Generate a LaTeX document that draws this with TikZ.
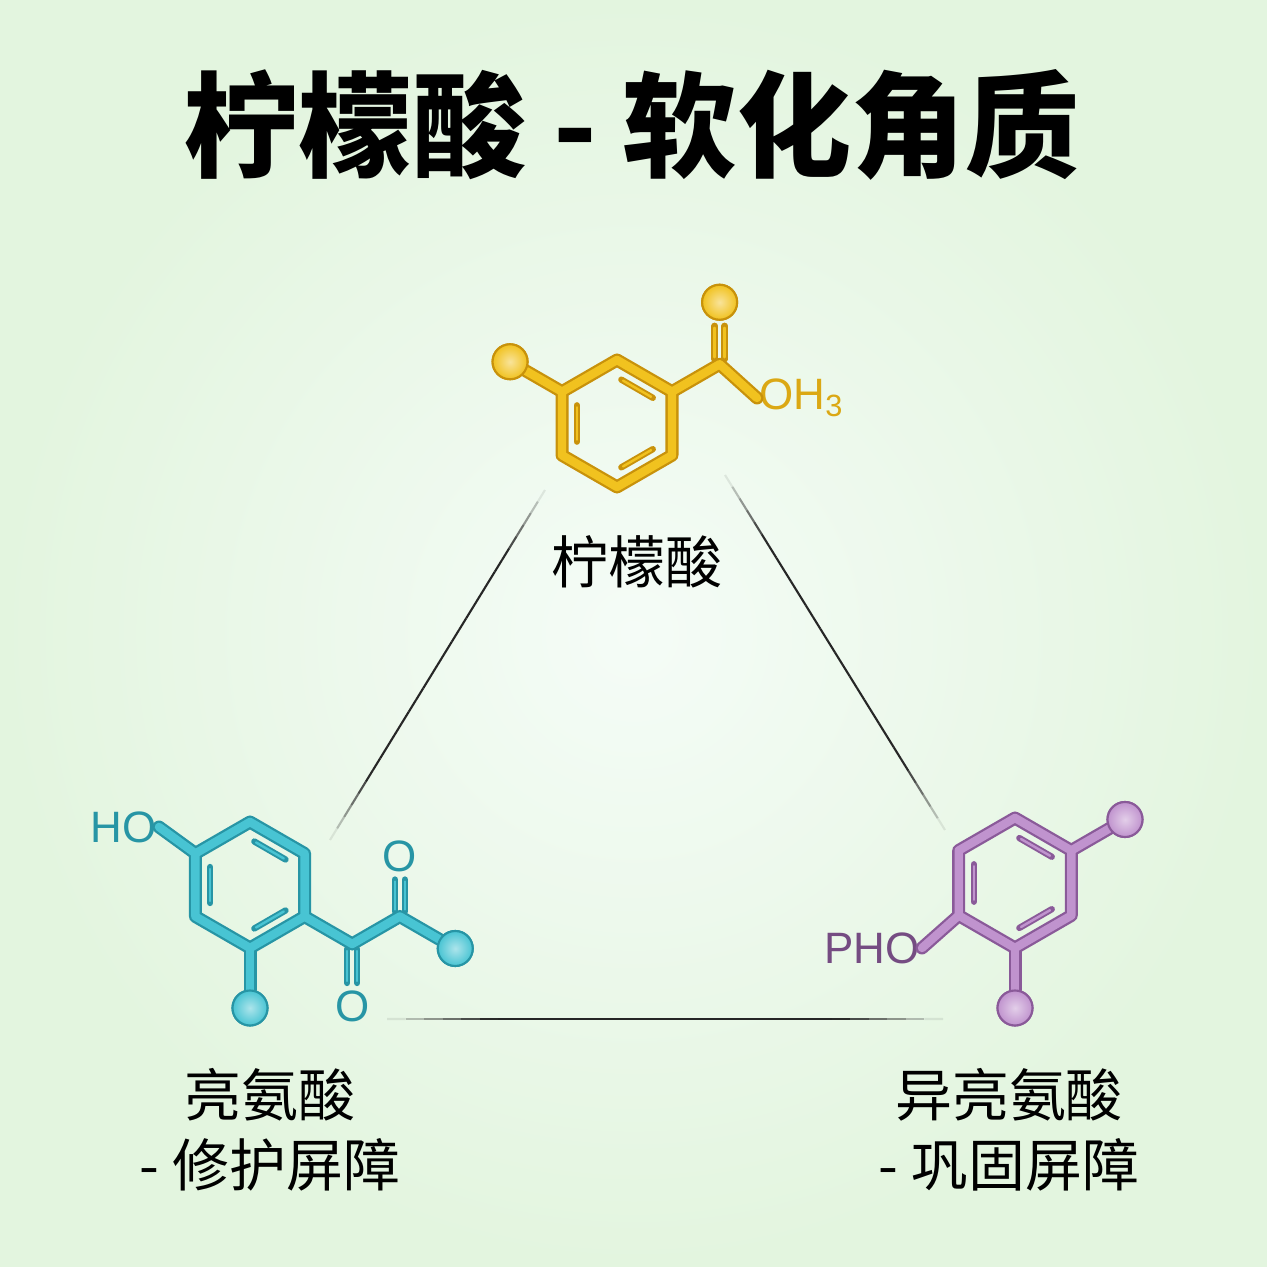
\documentclass[tikz,border=0pt]{standalone}
\usepackage{fontspec}
\setsansfont{Liberation Sans}
\newfontfamily\cjk{Noto Sans CJK SC}
\usepackage{tikz}
\usetikzlibrary{calc,positioning}

\definecolor{bgout}{HTML}{E3F5DF}
\definecolor{bgin}{HTML}{F5FCF7}
\definecolor{yel}{HTML}{F1C21F}
\definecolor{yeldk}{HTML}{C8920B}
\definecolor{cya}{HTML}{48C4D3}
\definecolor{cyadk}{HTML}{2795A5}
\definecolor{pur}{HTML}{C093CE}
\definecolor{purdk}{HTML}{8A5A99}

% thin line that fades out at both ends
\newcommand\fadeline[2]{%
  \foreach \i in {0,...,29}{%
    \pgfmathsetmacro\fa{\i/30}
    \pgfmathsetmacro\fb{(\i+1)/30}
    \pgfmathsetmacro\op{min(1,1.8*sin(180*(\i+0.5)/30))}
    \draw[line width=0.6pt, draw=black!85, opacity=\op]
      ($(#1)!\fa!(#2)$) -- ($(#1)!\fb!(#2)$);
  }}

% ring of six atoms around a centre
\newcommand\ring[3]{%
  \foreach \a/\n in {90/1,30/2,-30/3,-90/4,-150/5,150/6}
    \coordinate (#1\n) at ([shift={(\a:#3)}]#2);}

% inner lines of the three double bonds in a ring
\newcommand\ringdb[3]{%
  \foreach \p/\q in {1/2,5/6,3/4}{%
    \draw[dbout=#3] ($(#2)!0.73!(#1\p)$) -- ($(#2)!0.73!(#1\q)$);
    \draw[dbin=#3] ($(#2)!0.73!(#1\p)$) -- ($(#2)!0.73!(#1\q)$);}}

\begin{document}
\begin{tikzpicture}[
  tubeout/.style={line width=3.7pt, draw=#1dk, line join=round, line cap=round},
  tubein/.style={line width=2.4pt, draw=#1, line join=round, line cap=round},
  dbout/.style={line width=1.8pt, draw=#1dk, line cap=round,
                shorten <=0.05cm, shorten >=0.05cm},
  dbin/.style={line width=0.7pt, draw=#1, line cap=round,
               shorten <=0.07cm, shorten >=0.07cm},
  atomball/.style={circle, draw=#1dk, line width=0.6pt, inner sep=0pt,
                   minimum size=0.35cm, inner color=#1!45!white, outer color=#1},
  atomlbl/.style={font=\sffamily\fontsize{12.5}{14}\selectfont, inner sep=0.5pt},
  title/.style={font=\cjk\bfseries\fontsize{32.5}{40}\selectfont},
  lbl/.style={font=\cjk\fontsize{16.2}{20}\selectfont, align=center}
]
\useasboundingbox (0,0) rectangle (12.67,12.67);
\fill[bgout] (0,0) rectangle (12.67,12.67);
\shade[inner color=bgin, outer color=bgout] (0,0) rectangle (12.67,12.67);

\node[title] (ttl) at (6.32,11.42) {柠檬酸 - 软化角质};

% triangle
\coordinate (t1) at (5.45,7.77);
\coordinate (t2) at (3.30,4.27);
\coordinate (t3) at (7.25,7.92);
\coordinate (t4) at (9.45,4.37);
\coordinate (t5) at (3.87,2.48);
\coordinate (t6) at (9.43,2.48);
\fadeline{t1}{t2}
\fadeline{t3}{t4}
\fadeline{t5}{t6}

% yellow molecule
\coordinate (ycen) at (6.17,8.435);
\ring{y}{ycen}{0.635}
\coordinate (yc) at ([shift={(30:0.55)}]y2);
\node[atomball=yel] (yb1) at ([shift={(150:0.60)}]y6) {};
\node[atomball=yel] (yb2) at ([shift={(90:0.62)}]yc) {};
\node[atomlbl, text=yel!45!yeldk, anchor=west] (yoh) at (7.57,8.69) {OH\textsubscript{3}};
\foreach \s in {-0.05,0.05}{
  \draw[dbout=yel] ([xshift=\s cm]yc) -- ([xshift=\s cm]yb2.south);
  \draw[dbin=yel] ([xshift=\s cm]yc) -- ([xshift=\s cm]yb2.south);}
\foreach \t in {tubeout,tubein}{
  \draw[\t=yel] (y1) -- (y2) -- (y3) -- (y4) -- (y5) -- (y6) -- cycle;
  \draw[\t=yel] (y6) -- (yb1);
  \draw[\t=yel] (y2) -- (yc) -- (yoh.west);}
\ringdb{y}{ycen}{yel}
\node[atomball=yel] at (yb1) {};
\node[atomball=yel] at (yb2) {};
\node[lbl] (lab1) at (6.37,7.05) {柠檬酸};

% cyan molecule
\coordinate (ccen) at (2.50,3.82);
\ring{c}{ccen}{0.63}
\coordinate (cc1) at ([shift={(-30:0.55)}]c3);
\coordinate (cc2) at ([shift={(30:0.55)}]cc1);
\node[atomlbl, text=cyadk] (co1) at ([shift={(-90:0.62)}]cc1) {O};
\node[atomlbl, text=cyadk] (co2) at ([shift={(90:0.60)}]cc2) {O};
\node[atomlbl, text=cyadk, anchor=east] (cho) at (1.59,4.40) {HO};
\node[atomball=cya] (cb1) at ([shift={(-90:0.60)}]c4) {};
\node[atomball=cya] (cb2) at ([shift={(-30:0.64)}]cc2) {};
\foreach \s in {-0.05,0.05}{
  \draw[dbout=cya] ([xshift=\s cm]cc1) -- ([xshift=\s cm]co1.north);
  \draw[dbin=cya] ([xshift=\s cm]cc1) -- ([xshift=\s cm]co1.north);
  \draw[dbout=cya] ([xshift=\s cm]cc2) -- ([xshift=\s cm]co2.south);
  \draw[dbin=cya] ([xshift=\s cm]cc2) -- ([xshift=\s cm]co2.south);}
\foreach \t in {tubeout,tubein}{
  \draw[\t=cya] (c1) -- (c2) -- (c3) -- (c4) -- (c5) -- (c6) -- cycle;
  \draw[\t=cya] (c6) -- (cho.east);
  \draw[\t=cya] (c4) -- (cb1);
  \draw[\t=cya] (c3) -- (cc1) -- (cc2) -- (cb2);}
\ringdb{c}{ccen}{cya}
\node[atomball=cya] at (cb1) {};
\node[atomball=cya] at (cb2) {};
\node[lbl] (lab2) at (2.70,1.37) {亮氨酸\\- 修护屏障};

% purple molecule
\coordinate (pcen) at (10.15,3.84);
\ring{p}{pcen}{0.65}
\node[atomball=pur] (pb1) at ([shift={(30:0.62)}]p2) {};
\node[atomball=pur] (pb2) at ([shift={(-90:0.60)}]p4) {};
\node[atomlbl, text=purdk!85!black, anchor=east] (pho) at (9.22,3.19) {PHO};
\foreach \t in {tubeout,tubein}{
  \draw[\t=pur] (p1) -- (p2) -- (p3) -- (p4) -- (p5) -- (p6) -- cycle;
  \draw[\t=pur] (p2) -- (pb1);
  \draw[\t=pur] (p4) -- (pb2);
  \draw[\t=pur] (p5) -- (pho.east);}
\ringdb{p}{pcen}{pur}
\node[atomball=pur] at (pb1) {};
\node[atomball=pur] at (pb2) {};
\node[lbl] (lab3) at (10.09,1.37) {异亮氨酸\\- 巩固屏障};
\end{tikzpicture}
\end{document}
